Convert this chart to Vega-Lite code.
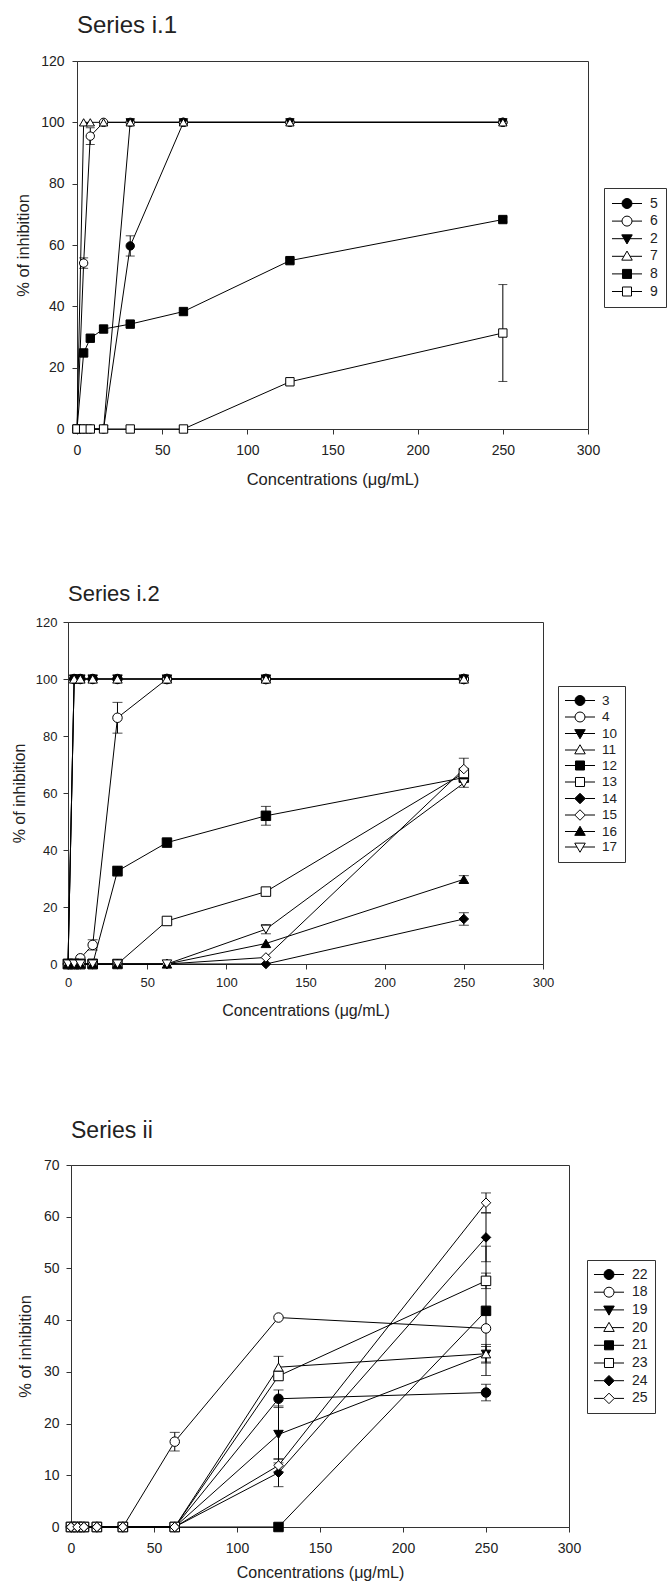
{
"$schema": "https://vega.github.io/schema/vega-lite/v6.json",
"padding": {"left": 0, "top": 13, "right": 0, "bottom": 0},
"background": "white",
"spacing": 0,
"config": {
 "font": "Liberation Sans",
 "view": {"stroke": "#333", "strokeWidth": 1},
 "axis": {"grid": false, "domainColor": "#333", "tickColor": "#333", "tickSize": 5, "labelColor": "#222", "titleColor": "#222", "labelFont": "Liberation Sans", "titleFont": "Liberation Sans", "titleFontWeight": "normal", "labelFlush": false, "labelOverlap": false},
 "title": {"font": "Liberation Sans", "fontWeight": "normal", "color": "#222", "anchor": "start", "frame": "group"}
},
"datasets": {
 "d1": [
  {"s":"5","x":0,"y":0},{"s":"5","x":3.9,"y":0},{"s":"5","x":7.8,"y":0},{"s":"5","x":15.6,"y":0},{"s":"5","x":31.25,"y":59.7},{"s":"5","x":62.5,"y":100},{"s":"5","x":125,"y":100},{"s":"5","x":250,"y":100},
  {"s":"6","x":0,"y":0},{"s":"6","x":3.9,"y":54.1},{"s":"6","x":7.8,"y":95.5},{"s":"6","x":15.6,"y":100},{"s":"6","x":31.25,"y":100},{"s":"6","x":62.5,"y":100},{"s":"6","x":125,"y":100},{"s":"6","x":250,"y":100},
  {"s":"2","x":0,"y":0},{"s":"2","x":3.9,"y":0},{"s":"2","x":7.8,"y":0},{"s":"2","x":15.6,"y":0},{"s":"2","x":31.25,"y":100},{"s":"2","x":62.5,"y":100},{"s":"2","x":125,"y":100},{"s":"2","x":250,"y":100},
  {"s":"7","x":0,"y":0},{"s":"7","x":3.9,"y":100},{"s":"7","x":7.8,"y":100},{"s":"7","x":15.6,"y":100},{"s":"7","x":31.25,"y":100},{"s":"7","x":62.5,"y":100},{"s":"7","x":125,"y":100},{"s":"7","x":250,"y":100},
  {"s":"8","x":0,"y":0},{"s":"8","x":3.9,"y":24.8},{"s":"8","x":7.8,"y":29.6},{"s":"8","x":15.6,"y":32.6},{"s":"8","x":31.25,"y":34.2},{"s":"8","x":62.5,"y":38.3},{"s":"8","x":125,"y":54.9},{"s":"8","x":250,"y":68.3},
  {"s":"9","x":0,"y":0},{"s":"9","x":3.9,"y":0},{"s":"9","x":7.8,"y":0},{"s":"9","x":15.6,"y":0},{"s":"9","x":31.25,"y":0},{"s":"9","x":62.5,"y":0},{"s":"9","x":125,"y":15.4},{"s":"9","x":250,"y":31.3}
 ],
 "e1": [
  {"s":"5","x":31.25,"y":59.7,"err":3.3},
  {"s":"6","x":3.9,"y":54.1,"err":1.7},
  {"s":"6","x":7.8,"y":95.5,"err":2.7},
  {"s":"8","x":125,"y":54.9,"err":0.8},
  {"s":"8","x":250,"y":68.3,"err":0.8},
  {"s":"9","x":250,"y":31.3,"err":15.8}
 ],
 "d2": [
  {"s":"3","x":0,"y":0},{"s":"3","x":3.9,"y":100},{"s":"3","x":7.8,"y":100},{"s":"3","x":15.6,"y":100},{"s":"3","x":31.25,"y":100},{"s":"3","x":62.5,"y":100},{"s":"3","x":125,"y":100},{"s":"3","x":250,"y":100},
  {"s":"4","x":0,"y":0},{"s":"4","x":3.9,"y":0},{"s":"4","x":7.8,"y":2.0},{"s":"4","x":15.6,"y":6.7},{"s":"4","x":31.25,"y":86.4},{"s":"4","x":62.5,"y":100},{"s":"4","x":125,"y":100},{"s":"4","x":250,"y":100},
  {"s":"10","x":0,"y":0},{"s":"10","x":3.9,"y":100},{"s":"10","x":7.8,"y":100},{"s":"10","x":15.6,"y":100},{"s":"10","x":31.25,"y":100},{"s":"10","x":62.5,"y":100},{"s":"10","x":125,"y":100},{"s":"10","x":250,"y":100},
  {"s":"11","x":0,"y":0},{"s":"11","x":3.9,"y":100},{"s":"11","x":7.8,"y":100},{"s":"11","x":15.6,"y":100},{"s":"11","x":31.25,"y":100},{"s":"11","x":62.5,"y":100},{"s":"11","x":125,"y":100},{"s":"11","x":250,"y":100},
  {"s":"12","x":0,"y":0},{"s":"12","x":3.9,"y":0},{"s":"12","x":7.8,"y":0},{"s":"12","x":15.6,"y":0},{"s":"12","x":31.25,"y":32.6},{"s":"12","x":62.5,"y":42.6},{"s":"12","x":125,"y":52.0},{"s":"12","x":250,"y":65.4},
  {"s":"13","x":0,"y":0},{"s":"13","x":3.9,"y":0},{"s":"13","x":7.8,"y":0},{"s":"13","x":15.6,"y":0},{"s":"13","x":31.25,"y":0},{"s":"13","x":62.5,"y":15.1},{"s":"13","x":125,"y":25.4},{"s":"13","x":250,"y":67.0},
  {"s":"14","x":0,"y":0},{"s":"14","x":3.9,"y":0},{"s":"14","x":7.8,"y":0},{"s":"14","x":15.6,"y":0},{"s":"14","x":31.25,"y":0},{"s":"14","x":62.5,"y":0},{"s":"14","x":125,"y":0},{"s":"14","x":250,"y":15.8},
  {"s":"15","x":0,"y":0},{"s":"15","x":3.9,"y":0},{"s":"15","x":7.8,"y":0},{"s":"15","x":15.6,"y":0},{"s":"15","x":31.25,"y":0},{"s":"15","x":62.5,"y":0},{"s":"15","x":125,"y":2.3},{"s":"15","x":250,"y":68.4},
  {"s":"16","x":0,"y":0},{"s":"16","x":3.9,"y":0},{"s":"16","x":7.8,"y":0},{"s":"16","x":15.6,"y":0},{"s":"16","x":31.25,"y":0},{"s":"16","x":62.5,"y":0},{"s":"16","x":125,"y":7.2},{"s":"16","x":250,"y":29.7},
  {"s":"17","x":0,"y":0},{"s":"17","x":3.9,"y":0},{"s":"17","x":7.8,"y":0},{"s":"17","x":15.6,"y":0},{"s":"17","x":31.25,"y":0},{"s":"17","x":62.5,"y":0},{"s":"17","x":125,"y":12.2},{"s":"17","x":250,"y":63.5}
 ],
 "e2": [
  {"s":"4","x":15.6,"y":6.7,"err":1.8},
  {"s":"4","x":31.25,"y":86.4,"err":5.4},
  {"s":"12","x":31.25,"y":32.6,"err":1.7},
  {"s":"12","x":62.5,"y":42.6,"err":1.0},
  {"s":"12","x":125,"y":52.0,"err":3.3},
  {"s":"12","x":250,"y":65.4,"err":1.0},
  {"s":"14","x":250,"y":15.8,"err":2.2},
  {"s":"15","x":250,"y":68.4,"err":3.8},
  {"s":"16","x":250,"y":29.7,"err":1.3},
  {"s":"17","x":125,"y":12.2,"err":1.6},
  {"s":"17","x":250,"y":63.5,"err":1.5}
 ],
 "d3": [
  {"s":"22","x":0,"y":0},{"s":"22","x":3.9,"y":0},{"s":"22","x":7.8,"y":0},{"s":"22","x":15.6,"y":0},{"s":"22","x":31.25,"y":0},{"s":"22","x":62.5,"y":0},{"s":"22","x":125,"y":24.8},{"s":"22","x":250,"y":26.0},
  {"s":"18","x":0,"y":0},{"s":"18","x":3.9,"y":0},{"s":"18","x":7.8,"y":0},{"s":"18","x":15.6,"y":0},{"s":"18","x":31.25,"y":0},{"s":"18","x":62.5,"y":16.5},{"s":"18","x":125,"y":40.5},{"s":"18","x":250,"y":38.4},
  {"s":"19","x":0,"y":0},{"s":"19","x":3.9,"y":0},{"s":"19","x":7.8,"y":0},{"s":"19","x":15.6,"y":0},{"s":"19","x":31.25,"y":0},{"s":"19","x":62.5,"y":0},{"s":"19","x":125,"y":17.9},{"s":"19","x":250,"y":33.4},
  {"s":"20","x":0,"y":0},{"s":"20","x":3.9,"y":0},{"s":"20","x":7.8,"y":0},{"s":"20","x":15.6,"y":0},{"s":"20","x":31.25,"y":0},{"s":"20","x":62.5,"y":0},{"s":"20","x":125,"y":30.9},{"s":"20","x":250,"y":33.5},
  {"s":"21","x":0,"y":0},{"s":"21","x":3.9,"y":0},{"s":"21","x":7.8,"y":0},{"s":"21","x":15.6,"y":0},{"s":"21","x":31.25,"y":0},{"s":"21","x":62.5,"y":0},{"s":"21","x":125,"y":0},{"s":"21","x":250,"y":41.8},
  {"s":"23","x":0,"y":0},{"s":"23","x":3.9,"y":0},{"s":"23","x":7.8,"y":0},{"s":"23","x":15.6,"y":0},{"s":"23","x":31.25,"y":0},{"s":"23","x":62.5,"y":0},{"s":"23","x":125,"y":29.2},{"s":"23","x":250,"y":47.6},
  {"s":"24","x":0,"y":0},{"s":"24","x":3.9,"y":0},{"s":"24","x":7.8,"y":0},{"s":"24","x":15.6,"y":0},{"s":"24","x":31.25,"y":0},{"s":"24","x":62.5,"y":0},{"s":"24","x":125,"y":10.5},{"s":"24","x":250,"y":56.0},
  {"s":"25","x":0,"y":0},{"s":"25","x":3.9,"y":0},{"s":"25","x":7.8,"y":0},{"s":"25","x":15.6,"y":0},{"s":"25","x":31.25,"y":0},{"s":"25","x":62.5,"y":0},{"s":"25","x":125,"y":11.9},{"s":"25","x":250,"y":62.7}
 ],
 "e3": [
  {"s":"22","x":125,"y":24.8,"err":1.7},
  {"s":"22","x":250,"y":26.0,"err":1.6},
  {"s":"18","x":62.5,"y":16.5,"err":1.8},
  {"s":"19","x":125,"y":17.9,"err":5.5},
  {"s":"19","x":250,"y":33.4,"err":1.5},
  {"s":"20","x":125,"y":30.9,"err":2.1},
  {"s":"20","x":250,"y":33.5,"err":1.8},
  {"s":"21","x":250,"y":41.8,"err":12.5},
  {"s":"23","x":250,"y":47.6,"err":1.5},
  {"s":"24","x":125,"y":10.5,"err":2.7},
  {"s":"24","x":250,"y":56.0,"err":4.7},
  {"s":"25","x":125,"y":11.9,"err":1.2},
  {"s":"25","x":250,"y":62.7,"err":1.9}
 ]
},
"vconcat": [
 {"spacing": 0, "hconcat": [
  {"width": 14, "height": 521, "view": {"stroke": null}, "data": {"values": []}, "mark": "point", "encoding": {}},
  {"width": 511, "height": 368,
   "title": {"text": "Series i.1", "fontSize": 24, "offset": 16},
   "resolve": {"scale": {"shape": "independent", "fill": "independent", "stroke": "independent"}},
   "layer": [
    {"data": {"name": "d1"}, "mark": {"type": "line", "color": "black", "strokeWidth": 1},
     "encoding": {
      "x": {"field": "x", "type": "quantitative", "scale": {"domain": [0,300], "nice": false, "zero": false}, "axis": {"values": [0,50,100,150,200,250,300], "title": "Concentrations (μg/mL)", "labelFontSize": 14, "titleFontSize": 16.5, "labelPadding": 9.5, "titlePadding": 14.4}},
      "y": {"field": "y", "type": "quantitative", "scale": {"domain": [0,120], "nice": false}, "axis": {"values": [0,20,40,60,80,100,120], "title": "% of inhibition", "labelFontSize": 14, "titleFontSize": 16.5, "labelPadding": 8, "titlePadding": 9.4}},
      "detail": {"field": "s", "type": "nominal"}}},
    {"data": {"name": "e1"}, "mark": {"type": "errorbar", "color": "black", "ticks": {"size": 9, "color": "black"}, "rule": {"color": "black", "strokeWidth": 1}},
     "encoding": {
      "x": {"field": "x", "type": "quantitative", "scale": {"domain": [0,300], "nice": false, "zero": false}, "axis": {"values": [0,50,100,150,200,250,300], "title": "Concentrations (μg/mL)", "labelFontSize": 14, "titleFontSize": 16.5, "labelPadding": 9.5, "titlePadding": 14.4}},
      "y": {"field": "y", "type": "quantitative", "scale": {"domain": [0,120], "nice": false}, "axis": {"values": [0,20,40,60,80,100,120], "title": "% of inhibition", "labelFontSize": 14, "titleFontSize": 16.5, "labelPadding": 8, "titlePadding": 9.4}},
      "yError": {"field": "err"}}},
    {"data": {"name": "d1"}, "mark": {"type": "point", "filled": true, "stroke": "black", "strokeWidth": 1, "size": 70, "opacity": 1},
     "encoding": {
      "x": {"field": "x", "type": "quantitative"},
      "y": {"field": "y", "type": "quantitative"},
      "shape": {"field": "s", "type": "nominal", "scale": {"domain": ["5","6","2","7","8","9"], "range": ["circle","circle","triangle-down","triangle-up","square","square"]}, "legend": null},
      "fill": {"field": "s", "type": "nominal", "scale": {"domain": ["5","6","2","7","8","9"], "range": ["black","white","black","white","black","white"]}, "legend": null}}},
    {"data": {"name": "d1"}, "mark": {"type": "point", "filled": true, "strokeWidth": 1, "size": 196, "opacity": 0},
     "encoding": {
      "x": {"field": "x", "type": "quantitative"},
      "y": {"field": "y", "type": "quantitative"},
      "shape": {"field": "s", "type": "nominal", "scale": {"domain": ["5","6","2","7","8","9"], "range": [
        "M-2.143,0H-0.714M0.714,0H2.143M-0.714,0A0.714,0.714,0,1,1,0.714,0A0.714,0.714,0,1,1,-0.714,0Z",
        "M-2.143,0H-0.714M0.714,0H2.143M-0.714,0A0.714,0.714,0,1,1,0.714,0A0.714,0.714,0,1,1,-0.714,0Z",
        "M-2.143,0H-0.433M0.433,0H2.143M0,0.75L0.75,-0.55H-0.75Z",
        "M-2.143,0H-0.433M0.433,0H2.143M0,-0.75L0.75,0.55H-0.75Z",
        "M-2.143,0H-0.643M0.643,0H2.143M-0.643,-0.643H0.643V0.643H-0.643Z",
        "M-2.143,0H-0.643M0.643,0H2.143M-0.643,-0.643H0.643V0.643H-0.643Z"]},
       "legend": {"title": null, "orient": "none", "legendX": 527, "legendY": 127, "direction": "vertical", "padding": 8, "strokeColor": "#333", "fillColor": "white", "symbolSize": 196, "symbolStrokeWidth": 1, "symbolOffset": 7.5, "symbolOpacity": 1, "labelOffset": 15.5, "labelFontSize": 14, "labelFont": "Liberation Sans", "labelColor": "#222", "rowPadding": 2.6}},
      "fill": {"field": "s", "type": "nominal", "scale": {"domain": ["5","6","2","7","8","9"], "range": ["black","white","black","white","black","white"]},
       "legend": {"title": null, "orient": "none", "legendX": 527, "legendY": 127, "direction": "vertical", "padding": 8, "strokeColor": "#333", "fillColor": "white", "symbolSize": 196, "symbolStrokeWidth": 1, "symbolOffset": 7.5, "symbolOpacity": 1, "labelOffset": 15.5, "labelFontSize": 14, "labelFont": "Liberation Sans", "labelColor": "#222", "rowPadding": 2.6}},
      "stroke": {"field": "s", "type": "nominal", "scale": {"domain": ["5","6","2","7","8","9"], "range": ["black","black","black","black","black","black"]},
       "legend": {"title": null, "orient": "none", "legendX": 527, "legendY": 127, "direction": "vertical", "padding": 8, "strokeColor": "#333", "fillColor": "white", "symbolSize": 196, "symbolStrokeWidth": 1, "symbolOffset": 7.5, "symbolOpacity": 1, "labelOffset": 15.5, "labelFontSize": 14, "labelFont": "Liberation Sans", "labelColor": "#222", "rowPadding": 2.6}}}}
   ]}
 ]},
 {"spacing": 0, "hconcat": [
  {"width": 10, "height": 497, "view": {"stroke": null}, "data": {"values": []}, "mark": "point", "encoding": {}},
  {"width": 475, "height": 342,
   "title": {"text": "Series i.2", "fontSize": 22, "offset": 10.1},
   "resolve": {"scale": {"shape": "independent", "fill": "independent", "stroke": "independent"}},
   "layer": [
    {"data": {"name": "d2"}, "mark": {"type": "line", "color": "black", "strokeWidth": 1},
     "encoding": {
      "x": {"field": "x", "type": "quantitative", "scale": {"domain": [0,300], "nice": false, "zero": false}, "axis": {"values": [0,50,100,150,200,250,300], "title": "Concentrations (μg/mL)", "labelFontSize": 13, "titleFontSize": 16, "labelPadding": 7.4, "titlePadding": 12.7}},
      "y": {"field": "y", "type": "quantitative", "scale": {"domain": [0,120], "nice": false}, "axis": {"values": [0,20,40,60,80,100,120], "title": "% of inhibition", "labelFontSize": 13, "titleFontSize": 16, "labelPadding": 6, "titlePadding": 8.3}},
      "detail": {"field": "s", "type": "nominal"}}},
    {"data": {"name": "e2"}, "mark": {"type": "errorbar", "color": "black", "ticks": {"size": 10, "color": "black"}, "rule": {"color": "black", "strokeWidth": 1}},
     "encoding": {
      "x": {"field": "x", "type": "quantitative", "scale": {"domain": [0,300], "nice": false, "zero": false}, "axis": {"values": [0,50,100,150,200,250,300], "title": "Concentrations (μg/mL)", "labelFontSize": 13, "titleFontSize": 16, "labelPadding": 7.4, "titlePadding": 12.7}},
      "y": {"field": "y", "type": "quantitative", "scale": {"domain": [0,120], "nice": false}, "axis": {"values": [0,20,40,60,80,100,120], "title": "% of inhibition", "labelFontSize": 13, "titleFontSize": 16, "labelPadding": 6, "titlePadding": 8.3}},
      "yError": {"field": "err"}}},
    {"data": {"name": "d2"}, "mark": {"type": "point", "filled": true, "stroke": "black", "strokeWidth": 1, "size": 90, "opacity": 1},
     "encoding": {
      "x": {"field": "x", "type": "quantitative"},
      "y": {"field": "y", "type": "quantitative"},
      "shape": {"field": "s", "type": "nominal", "scale": {"domain": ["3","4","10","11","12","13","14","15","16","17"], "range": ["circle","circle","triangle-down","triangle-up","square","square","diamond","diamond","triangle-up","triangle-down"]}, "legend": null},
      "fill": {"field": "s", "type": "nominal", "scale": {"domain": ["3","4","10","11","12","13","14","15","16","17"], "range": ["black","white","black","white","black","white","black","white","black","white"]}, "legend": null}}},
    {"data": {"name": "d2"}, "mark": {"type": "point", "filled": true, "strokeWidth": 1, "size": 196, "opacity": 0},
     "encoding": {
      "x": {"field": "x", "type": "quantitative"},
      "y": {"field": "y", "type": "quantitative"},
      "shape": {"field": "s", "type": "nominal", "scale": {"domain": ["3","4","10","11","12","13","14","15","16","17"], "range": [
        "M-2.143,0H-0.714M0.714,0H2.143M-0.714,0A0.714,0.714,0,1,1,0.714,0A0.714,0.714,0,1,1,-0.714,0Z",
        "M-2.143,0H-0.714M0.714,0H2.143M-0.714,0A0.714,0.714,0,1,1,0.714,0A0.714,0.714,0,1,1,-0.714,0Z",
        "M-2.143,0H-0.433M0.433,0H2.143M0,0.75L0.75,-0.55H-0.75Z",
        "M-2.143,0H-0.433M0.433,0H2.143M0,-0.75L0.75,0.55H-0.75Z",
        "M-2.143,0H-0.643M0.643,0H2.143M-0.643,-0.643H0.643V0.643H-0.643Z",
        "M-2.143,0H-0.643M0.643,0H2.143M-0.643,-0.643H0.643V0.643H-0.643Z",
        "M-2.143,0H-0.75M0.75,0H2.143M0,-0.75L0.75,0L0,0.75L-0.75,0Z",
        "M-2.143,0H-0.75M0.75,0H2.143M0,-0.75L0.75,0L0,0.75L-0.75,0Z",
        "M-2.143,0H-0.433M0.433,0H2.143M0,-0.75L0.75,0.55H-0.75Z",
        "M-2.143,0H-0.433M0.433,0H2.143M0,0.75L0.75,-0.55H-0.75Z"]},
       "legend": {"title": null, "orient": "none", "legendX": 490, "legendY": 64, "direction": "vertical", "padding": 7, "strokeColor": "#333", "fillColor": "white", "symbolSize": 196, "symbolStrokeWidth": 1, "symbolOffset": 7.5, "symbolOpacity": 1, "labelOffset": 14.5, "labelFontSize": 13.5, "labelFont": "Liberation Sans", "labelColor": "#222", "rowPadding": 1.5}},
      "fill": {"field": "s", "type": "nominal", "scale": {"domain": ["3","4","10","11","12","13","14","15","16","17"], "range": ["black","white","black","white","black","white","black","white","black","white"]},
       "legend": {"title": null, "orient": "none", "legendX": 490, "legendY": 64, "direction": "vertical", "padding": 7, "strokeColor": "#333", "fillColor": "white", "symbolSize": 196, "symbolStrokeWidth": 1, "symbolOffset": 7.5, "symbolOpacity": 1, "labelOffset": 14.5, "labelFontSize": 13.5, "labelFont": "Liberation Sans", "labelColor": "#222", "rowPadding": 1.5}},
      "stroke": {"field": "s", "type": "nominal", "scale": {"domain": ["3","4","10","11","12","13","14","15","16","17"], "range": ["black","black","black","black","black","black","black","black","black","black"]},
       "legend": {"title": null, "orient": "none", "legendX": 490, "legendY": 64, "direction": "vertical", "padding": 7, "strokeColor": "#333", "fillColor": "white", "symbolSize": 196, "symbolStrokeWidth": 1, "symbolOffset": 7.5, "symbolOpacity": 1, "labelOffset": 14.5, "labelFontSize": 13.5, "labelFont": "Liberation Sans", "labelColor": "#222", "rowPadding": 1.5}}}}
   ]}
 ]},
 {"spacing": 0, "hconcat": [
  {"width": 16, "height": 100, "view": {"stroke": null}, "data": {"values": []}, "mark": "point", "encoding": {}},
  {"width": 498, "height": 362,
   "title": {"text": "Series ii", "fontSize": 23, "offset": 15.5},
   "resolve": {"scale": {"shape": "independent", "fill": "independent", "stroke": "independent"}},
   "layer": [
    {"data": {"name": "d3"}, "mark": {"type": "line", "color": "black", "strokeWidth": 1},
     "encoding": {
      "x": {"field": "x", "type": "quantitative", "scale": {"domain": [0,300], "nice": false, "zero": false}, "axis": {"values": [0,50,100,150,200,250,300], "title": "Concentrations (μg/mL)", "labelFontSize": 14, "titleFontSize": 16, "labelPadding": 9.2, "titlePadding": 9}},
      "y": {"field": "y", "type": "quantitative", "scale": {"domain": [0,70], "nice": false}, "axis": {"values": [0,10,20,30,40,50,60,70], "title": "% of inhibition", "labelFontSize": 14, "titleFontSize": 16.5, "labelPadding": 7, "titlePadding": 10}},
      "detail": {"field": "s", "type": "nominal"}}},
    {"data": {"name": "e3"}, "mark": {"type": "errorbar", "color": "black", "ticks": {"size": 10, "color": "black"}, "rule": {"color": "black", "strokeWidth": 1}},
     "encoding": {
      "x": {"field": "x", "type": "quantitative", "scale": {"domain": [0,300], "nice": false, "zero": false}, "axis": {"values": [0,50,100,150,200,250,300], "title": "Concentrations (μg/mL)", "labelFontSize": 14, "titleFontSize": 16, "labelPadding": 9.2, "titlePadding": 9}},
      "y": {"field": "y", "type": "quantitative", "scale": {"domain": [0,70], "nice": false}, "axis": {"values": [0,10,20,30,40,50,60,70], "title": "% of inhibition", "labelFontSize": 14, "titleFontSize": 16.5, "labelPadding": 7, "titlePadding": 10}},
      "yError": {"field": "err"}}},
    {"data": {"name": "d3"}, "mark": {"type": "point", "filled": true, "stroke": "black", "strokeWidth": 1, "size": 90, "opacity": 1},
     "encoding": {
      "x": {"field": "x", "type": "quantitative"},
      "y": {"field": "y", "type": "quantitative"},
      "shape": {"field": "s", "type": "nominal", "scale": {"domain": ["22","18","19","20","21","23","24","25"], "range": ["circle","circle","triangle-down","triangle-up","square","square","diamond","diamond"]}, "legend": null},
      "fill": {"field": "s", "type": "nominal", "scale": {"domain": ["22","18","19","20","21","23","24","25"], "range": ["black","white","black","white","black","white","black","white"]}, "legend": null}}},
    {"data": {"name": "d3"}, "mark": {"type": "point", "filled": true, "strokeWidth": 1, "size": 196, "opacity": 0},
     "encoding": {
      "x": {"field": "x", "type": "quantitative"},
      "y": {"field": "y", "type": "quantitative"},
      "shape": {"field": "s", "type": "nominal", "scale": {"domain": ["22","18","19","20","21","23","24","25"], "range": [
        "M-2.143,0H-0.714M0.714,0H2.143M-0.714,0A0.714,0.714,0,1,1,0.714,0A0.714,0.714,0,1,1,-0.714,0Z",
        "M-2.143,0H-0.714M0.714,0H2.143M-0.714,0A0.714,0.714,0,1,1,0.714,0A0.714,0.714,0,1,1,-0.714,0Z",
        "M-2.143,0H-0.433M0.433,0H2.143M0,0.75L0.75,-0.55H-0.75Z",
        "M-2.143,0H-0.433M0.433,0H2.143M0,-0.75L0.75,0.55H-0.75Z",
        "M-2.143,0H-0.643M0.643,0H2.143M-0.643,-0.643H0.643V0.643H-0.643Z",
        "M-2.143,0H-0.643M0.643,0H2.143M-0.643,-0.643H0.643V0.643H-0.643Z",
        "M-2.143,0H-0.75M0.75,0H2.143M0,-0.75L0.75,0L0,0.75L-0.75,0Z",
        "M-2.143,0H-0.75M0.75,0H2.143M0,-0.75L0.75,0L0,0.75L-0.75,0Z"]},
       "legend": {"title": null, "orient": "none", "legendX": 516, "legendY": 95, "direction": "vertical", "padding": 7, "strokeColor": "#333", "fillColor": "white", "symbolSize": 196, "symbolStrokeWidth": 1, "symbolOffset": 7.5, "symbolOpacity": 1, "labelOffset": 15.5, "labelFontSize": 14, "labelFont": "Liberation Sans", "labelColor": "#222", "rowPadding": 2.7}},
      "fill": {"field": "s", "type": "nominal", "scale": {"domain": ["22","18","19","20","21","23","24","25"], "range": ["black","white","black","white","black","white","black","white"]},
       "legend": {"title": null, "orient": "none", "legendX": 516, "legendY": 95, "direction": "vertical", "padding": 7, "strokeColor": "#333", "fillColor": "white", "symbolSize": 196, "symbolStrokeWidth": 1, "symbolOffset": 7.5, "symbolOpacity": 1, "labelOffset": 15.5, "labelFontSize": 14, "labelFont": "Liberation Sans", "labelColor": "#222", "rowPadding": 2.7}},
      "stroke": {"field": "s", "type": "nominal", "scale": {"domain": ["22","18","19","20","21","23","24","25"], "range": ["black","black","black","black","black","black","black","black"]},
       "legend": {"title": null, "orient": "none", "legendX": 516, "legendY": 95, "direction": "vertical", "padding": 7, "strokeColor": "#333", "fillColor": "white", "symbolSize": 196, "symbolStrokeWidth": 1, "symbolOffset": 7.5, "symbolOpacity": 1, "labelOffset": 15.5, "labelFontSize": 14, "labelFont": "Liberation Sans", "labelColor": "#222", "rowPadding": 2.7}}}}
   ]}
 ]}
]
}
